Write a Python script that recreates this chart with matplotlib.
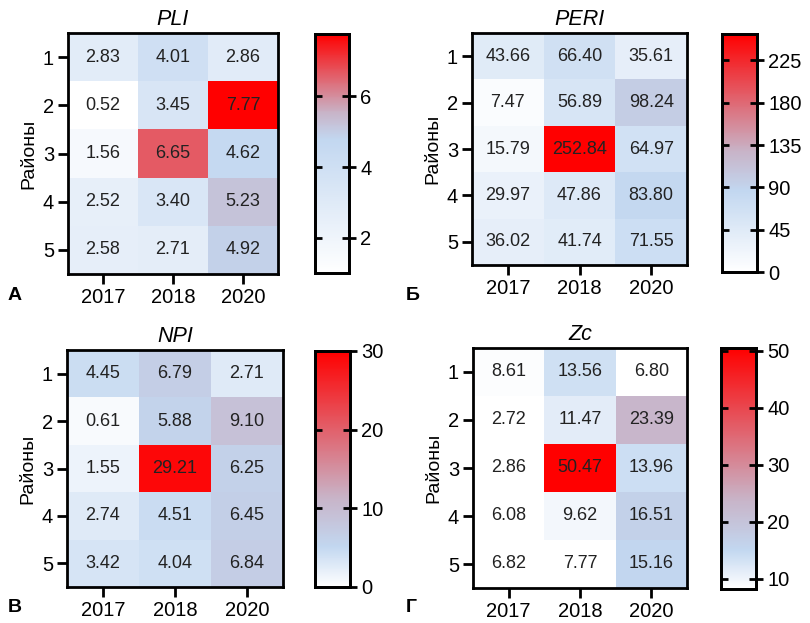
import numpy as np
import matplotlib
matplotlib.use('Agg')
import matplotlib.pyplot as plt
from matplotlib.colors import LinearSegmentedColormap, Normalize

plt.rcParams['font.family'] = ['Liberation Sans', 'DejaVu Sans']

years = ['2017', '2018', '2020']
districts = ['1', '2', '3', '4', '5']

pli = [[2.83, 4.01, 2.86],
       [0.52, 3.45, 7.77],
       [1.56, 6.65, 4.62],
       [2.52, 3.40, 5.23],
       [2.58, 2.71, 4.92]]
peri = [[43.66, 66.40, 35.61],
        [7.47, 56.89, 98.24],
        [15.79, 252.84, 64.97],
        [29.97, 47.86, 83.80],
        [36.02, 41.74, 71.55]]
npi = [[4.45, 6.79, 2.71],
       [0.61, 5.88, 9.10],
       [1.55, 29.21, 6.25],
       [2.74, 4.51, 6.45],
       [3.42, 4.04, 6.84]]
zc = [[8.61, 13.56, 6.80],
      [2.72, 11.47, 23.39],
      [2.86, 50.47, 13.96],
      [6.08, 9.62, 16.51],
      [6.82, 7.77, 15.16]]

titles = ['PLI', 'PERI', 'NPI', 'Zc']
letters = ['А', 'Б', 'В', 'Г']
ranges = [(1.0, 7.77), (0, 253), (0, 30), (8.2, 50.5)]
cb_ticks = [[2, 4, 6], [0, 45, 90, 135, 180, 225], [0, 10, 20, 30], [10, 20, 30, 40, 50]]
blue_pos = [0.56, 0.34, 0.17, 0.16]

W, H = 810, 623
# pixel boxes: heatmap (x0, y0, x1, y1), colorbar (x0, y0, x1, y1), letter (x, y)
boxes = [((68, 33, 278, 274), (315, 34, 349, 273), (8, 300)),
         ((472, 33, 687, 265), (722, 34, 757, 272), (406, 300)),
         ((67, 350, 283, 587), (315, 351, 350, 587), (8, 612)),
         ((473, 348, 687, 588), (721, 348, 756, 589), (406, 612))]


def fax(fig, b):
    x0, y0, x1, y1 = b
    return fig.add_axes([x0 / W, 1 - y1 / H, (x1 - x0) / W, (y1 - y0) / H])


fig = plt.figure(figsize=(8.1, 6.23), dpi=100)

for i, data in enumerate([pli, peri, npi, zc]):
    data = np.array(data)
    hb, cbb, lp = boxes[i]
    b = blue_pos[i]
    cmap = LinearSegmentedColormap.from_list(
        'c%d' % i, [(0, '#ffffff'), (b, '#c2d7f0'), (b + (1 - b) * 0.25, '#c8b4c8'), (1, '#ff0000')])
    norm = Normalize(*ranges[i], clip=True)

    ax = fax(fig, hb)
    ax.pcolormesh(np.arange(4) - 0.5, np.arange(6) - 0.5, data, cmap=cmap, norm=norm)
    ax.set_xlim(-0.5, 2.5)
    ax.set_ylim(4.5, -0.5)
    for r in range(5):
        for c in range(3):
            ax.text(c, r, '%.2f' % data[r, c], ha='center', va='center', fontsize=13, color='#222222')
    ax.set_xticks(range(3), years)
    ax.set_yticks(range(5), districts)
    ax.tick_params(length=7, width=2, labelsize=14.5, pad=3)
    for s in ax.spines.values():
        s.set_linewidth(2)
    ax.set_ylabel('Районы', fontsize=14)
    ax.set_title(titles[i], fontsize=15.5, style='italic', pad=6)

    cax = fax(fig, cbb)
    cax2 = cax.twinx()
    grad = np.linspace(ranges[i][0], ranges[i][1], 256).reshape(-1, 1)
    cax.pcolormesh([0, 1], np.linspace(ranges[i][0], ranges[i][1], 257), grad, cmap=cmap, norm=norm)
    cax.set_xlim(0, 1)
    cax.set_xticks([])
    for a in (cax, cax2):
        a.set_ylim(*ranges[i])
        a.set_yticks(cb_ticks[i])
        for s in a.spines.values():
            s.set_linewidth(2)
    # short inner ticks on the left edge, crossing ticks + labels on the right
    cax.tick_params(axis='y', direction='in', length=5, width=2, left=True, right=False,
                    labelleft=False, labelright=False)
    cax2.tick_params(axis='y', direction='inout', length=10, width=2, left=False, right=True,
                     labelleft=False, labelright=True, labelsize=14.5, pad=3)

    fig.text(lp[0] / W, 1 - lp[1] / H, letters[i], fontsize=14, fontweight='bold', ha='left', va='baseline')

fig.savefig('out.png', dpi=100)
